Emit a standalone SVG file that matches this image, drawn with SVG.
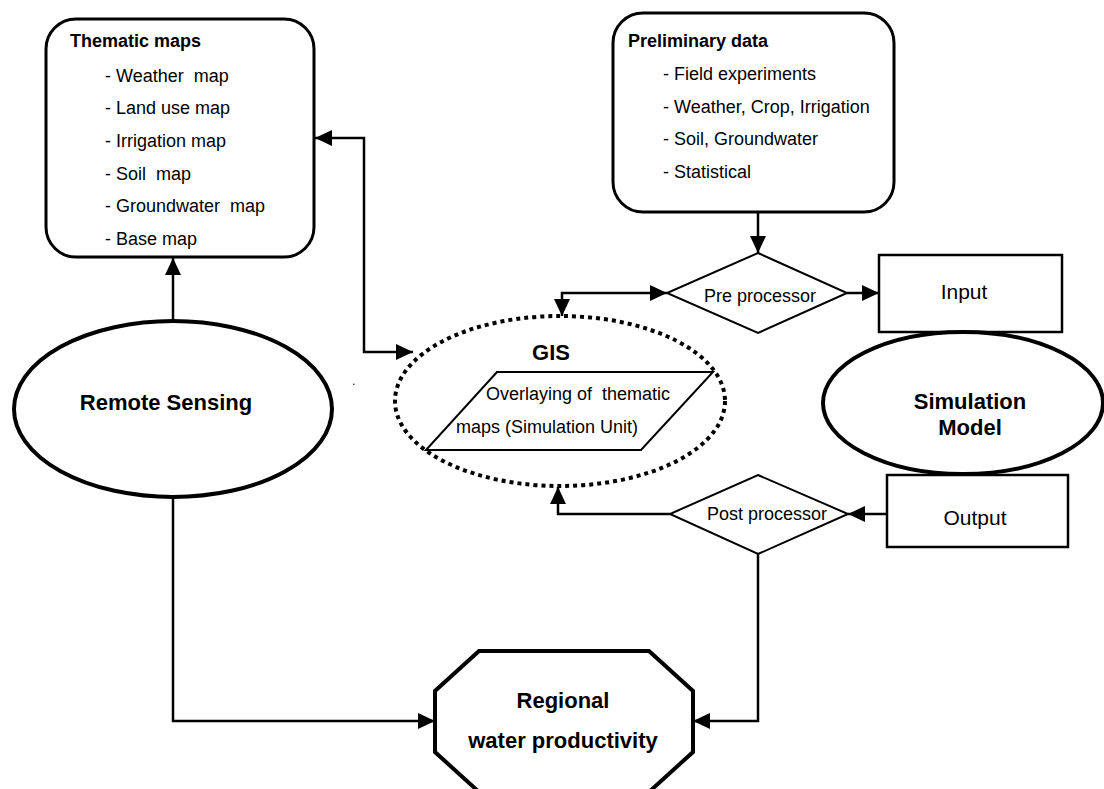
<svg xmlns="http://www.w3.org/2000/svg" width="1104" height="789" viewBox="0 0 1104 789">
  <defs>
    <marker id="arrow" markerUnits="userSpaceOnUse" markerWidth="17" markerHeight="16" refX="17" refY="8" orient="auto-start-reverse" viewBox="0 0 17 16">
      <path d="M0,0 L17,8 L0,16 z" fill="#000"/>
    </marker>
    <style>
      text { font-family: "Liberation Sans", Arial, sans-serif; fill: #000; }
      .b { font-weight: bold; }
      .r { font-size: 18px; }
      .h { font-size: 18px; font-weight: bold; }
      .big { font-size: 22px; font-weight: bold; }
      .box { fill: #fff; stroke: #000; }
      .conn { fill: none; stroke: #000; stroke-width: 2.5; }
    </style>
  </defs>

  <rect width="1104" height="789" fill="#fff"/>

  <!-- connectors -->
  <g id="connectors">
    <path class="conn" d="M173,319 V258" marker-end="url(#arrow)"/>
    <path class="conn" d="M173,497 V721 H435" stroke-width="2" marker-end="url(#arrow)"/>
    <path class="conn" d="M315,138 H364 V352 H413" marker-start="url(#arrow)" marker-end="url(#arrow)"/>
    <path class="conn" d="M562,316 V293 H667" marker-start="url(#arrow)" marker-end="url(#arrow)"/>
    <path class="conn" d="M758,212 V253" marker-end="url(#arrow)"/>
    <path class="conn" d="M847,293 H879" marker-end="url(#arrow)"/>
    <path class="conn" d="M887,514 H848" marker-end="url(#arrow)"/>
    <path class="conn" d="M670,514 H558 V487" marker-end="url(#arrow)"/>
    <path class="conn" d="M758,554 V721 H693" marker-end="url(#arrow)"/>
  </g>

  <!-- thematic maps -->
  <g id="thematic-maps">
    <rect class="box" x="46" y="19" width="268" height="238" rx="30" stroke-width="3"/>
    <text class="h" x="70" y="47">Thematic maps</text>
    <text class="r" x="105" y="81.5" xml:space="preserve">- Weather  map</text>
    <text class="r" x="105" y="114.2">- Land use map</text>
    <text class="r" x="105" y="146.9">- Irrigation map</text>
    <text class="r" x="105" y="179.6" xml:space="preserve">- Soil  map</text>
    <text class="r" x="105" y="212.3" xml:space="preserve">- Groundwater  map</text>
    <text class="r" x="105" y="245">- Base map</text>
  </g>

  <!-- preliminary data -->
  <g id="preliminary-data">
    <rect class="box" x="613" y="13" width="281" height="199" rx="30" stroke-width="3"/>
    <text class="h" x="628" y="47">Preliminary data</text>
    <text class="r" x="663" y="80">- Field experiments</text>
    <text class="r" x="663" y="113">- Weather, Crop, Irrigation</text>
    <text class="r" x="663" y="145">- Soil, Groundwater</text>
    <text class="r" x="663" y="178">- Statistical</text>
  </g>

  <!-- remote sensing -->
  <g id="remote-sensing">
    <ellipse class="box" cx="173" cy="409" rx="159" ry="88" stroke-width="4"/>
    <text class="big" x="166" y="410" text-anchor="middle">Remote Sensing</text>
  </g>

  <text id="dot" x="352" y="385" font-size="12">.</text>

  <!-- GIS -->
  <g id="gis">
    <ellipse cx="560" cy="401" rx="165" ry="85" fill="none" stroke="#000" stroke-width="4" stroke-dasharray="4 4"/>
    <text class="big" x="551" y="360" text-anchor="middle">GIS</text>
    <polygon class="box" points="497,372 713,372 641,450 426,450" stroke-width="2"/>
    <text class="r" x="486" y="400" xml:space="preserve">Overlaying of  thematic</text>
    <text class="r" x="456" y="433">maps (Simulation Unit)</text>
  </g>

  <!-- pre processor -->
  <g id="pre-processor">
    <polygon class="box" points="758,253 847,293 758,333 667,293" stroke-width="2"/>
    <text class="r" x="760" y="302" text-anchor="middle">Pre processor</text>
  </g>

  <!-- input -->
  <g id="input">
    <rect class="box" x="879" y="255" width="183" height="77" stroke-width="2.5"/>
    <text x="964" y="299" font-size="21" text-anchor="middle">Input</text>
  </g>

  <!-- simulation model -->
  <g id="simulation-model">
    <ellipse class="box" cx="963" cy="403" rx="140" ry="71" stroke-width="4"/>
    <text class="big" x="970" y="409" text-anchor="middle">Simulation</text>
    <text class="big" x="970" y="435" text-anchor="middle">Model</text>
  </g>

  <!-- output -->
  <g id="output">
    <rect class="box" x="887" y="475" width="181" height="72" stroke-width="2.5"/>
    <text x="975" y="525" font-size="21" text-anchor="middle">Output</text>
  </g>

  <!-- post processor -->
  <g id="post-processor">
    <polygon class="box" points="758,475 848,514 758,554 670,514" stroke-width="2"/>
    <text class="r" x="767" y="520" text-anchor="middle">Post processor</text>
  </g>

  <!-- regional water productivity -->
  <g id="regional-water-productivity">
    <polygon class="box" points="479,651 649,651 693,691 693,752 649,792 479,792 435,752 435,691" stroke-width="4"/>
    <text class="big" x="563" y="708" text-anchor="middle">Regional</text>
    <text class="big" x="563" y="748" text-anchor="middle">water productivity</text>
  </g>
</svg>
